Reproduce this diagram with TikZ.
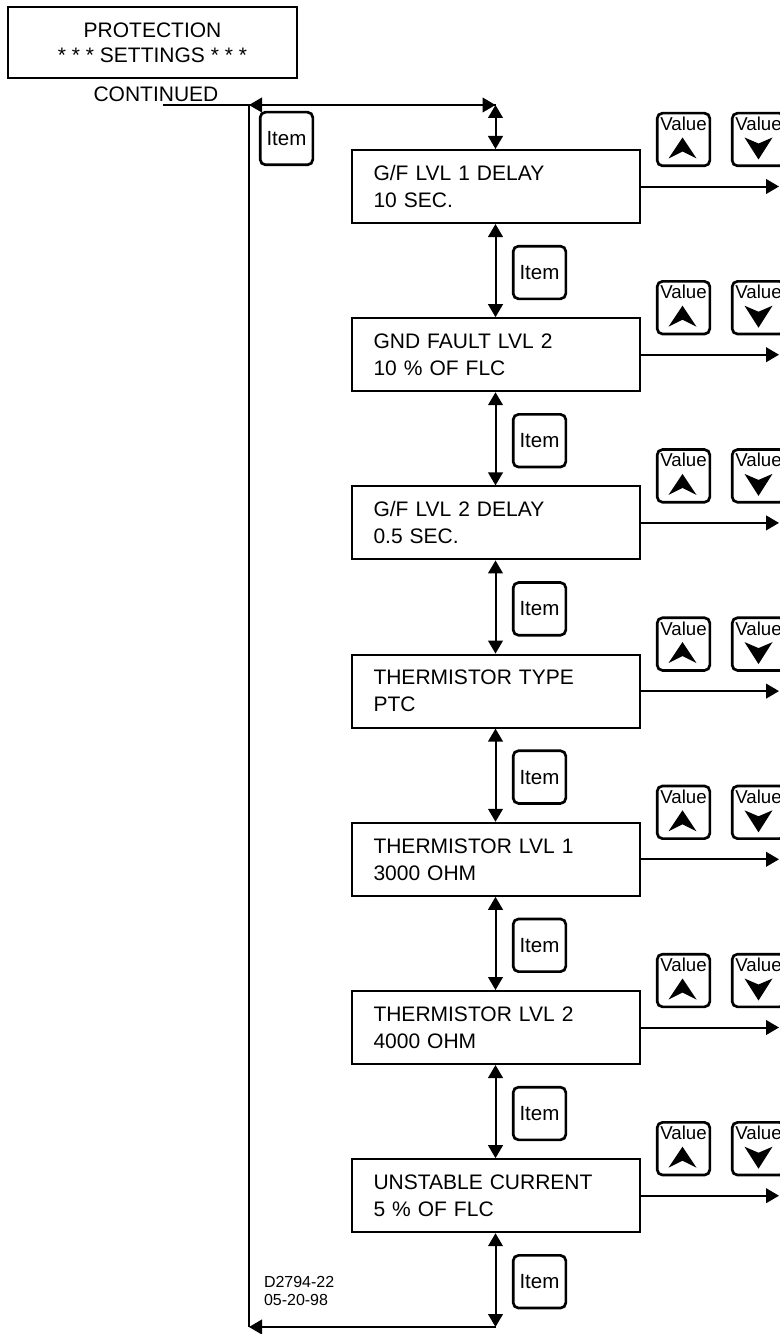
\documentclass[tikz,border=0pt]{standalone}
\usepackage{fontspec}
\setmainfont{Liberation Sans}
\usepackage{tikz}
\usetikzlibrary{arrows.meta}

\begin{document}
\begin{tikzpicture}[x=0.75pt,y=-0.75pt,line width=1.5pt,
  tri/.tip={Triangle[length=9.75pt,width=11pt]},
  menubox/.style={draw,minimum width=216pt,minimum height=54.75pt,text width=183pt,
    align=left,inner sep=0pt,font=\fontsize{15.75}{20.25}\selectfont},
  keybox/.style={draw,line width=2pt,rounded corners=4pt,minimum width=39.5pt,
    minimum height=39.5pt,inner sep=0pt},
  itemkey/.style={keybox,font=\fontsize{15.4}{18}\selectfont},
  valtxt/.style={anchor=base,inner sep=0pt,font=\fontsize{14}{16}\selectfont},
  upchev/.pic={\fill (-1,-2) -- (13,19) -- (-1,12) -- (-15,19) -- cycle;},
  dnchev/.pic={\fill (0,20) -- (14,-2) -- (0,4) -- (-14,-2) -- cycle;}]
\useasboundingbox (0,0) rectangle (779,1334);

% title and side path
\node[draw,minimum width=216.75pt,minimum height=53.25pt,align=center,
  font=\fontsize{15.75}{18.75}\selectfont] (title) at (152.5,42.5)
  {PROTECTION\\* * * SETTINGS * * *};
\node[anchor=base,inner sep=0pt,font=\fontsize{15.75}{18}\selectfont] (cont) at (156,102) {CONTINUED};
\coordinate (cs) at (163,105);
\coordinate (tl) at (249,105);
\coordinate (tr) at (495.5,105);
\coordinate (bl) at (249,1327);
\coordinate (br) at (495.5,1327);
\node[itemkey] (i0) at (286.5,138.5) {Item};

% menu entries
\foreach \i/\txt [evaluate=\i as \ty using 150+(\i-1)*168.2] in
  {1/{G/F LVL 1 DELAY\\10 SEC.},
   2/{GND FAULT LVL 2\\10 \% OF FLC},
   3/{G/F LVL 2 DELAY\\0.5 SEC.},
   4/{THERMISTOR TYPE\\PTC},
   5/{THERMISTOR LVL 1\\3000 OHM},
   6/{THERMISTOR LVL 2\\4000 OHM},
   7/{UNSTABLE CURRENT\\5 \% OF FLC}}
{
  \node[menubox] (b\i) at (495.5,\ty+36.5) {\txt};
  \coordinate (r\i) at (779,\ty+36.5);
  \draw[-tri] (b\i.east) -- (r\i);
  \node[keybox] (vu\i) at (683.5,\ty-10.5) {};
  \node[valtxt] at ([yshift=-14pt]vu\i.north) {Value};
  \pic at (vu\i.center) {upchev};
  \node[keybox] (vd\i) at (758.5,\ty-10.5) {};
  \node[valtxt] at ([yshift=-14pt]vd\i.north) {Value};
  \pic at (vd\i.center) {dnchev};
  \node[itemkey] (i\i) at (539.5,\ty+122.5) {Item};
}

% connectors
\draw (cs) -- (tl);
\draw[-tri] (tr) -- (tl);
\draw[-tri] (tl) -- (tr);
\draw (tl) -- (bl);
\draw[tri-tri] (tr) -- (b1.north);
\foreach \i [count=\j from 2] in {1,...,6}
  \draw[tri-tri] (b\i.south) -- (b\j.north);
\draw[tri-tri] (b7.south) -- (br);
\draw[-tri] (br) -- (bl);

\node[anchor=west,align=left,inner sep=0pt,font=\fontsize{12}{13.5}\selectfont] (dno) at (263,1291)
  {D2794-22\\05-20-98};
\end{tikzpicture}
\end{document}
